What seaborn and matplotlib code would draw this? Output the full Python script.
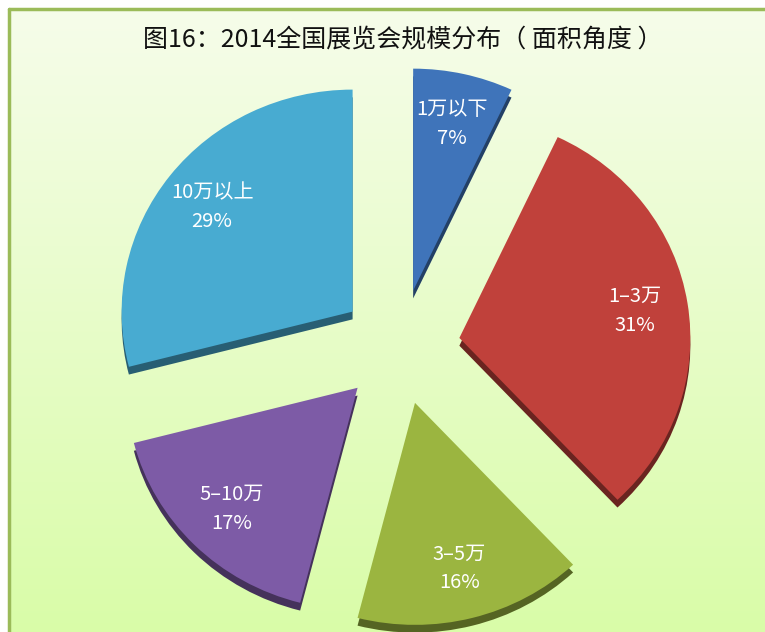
import numpy as np
import seaborn as sns
import matplotlib.pyplot as plt
import matplotlib.colors as mcolors
from matplotlib.lines import Line2D

sns.set_theme(style="white")
plt.rcParams['font.family'] = ['Noto Sans CJK SC', 'DejaVu Sans']

# 数据
categories = ["1万以下", "1–3万", "3–5万", "5–10万", "10万以上"]
shares = [7, 31, 16, 17, 29]
colors = ["#3f74ba", "#c0413b", "#9bb540", "#7d5ba6", "#48abd1"]
title = "图16：2014全国展览会规模分布（ 面积角度 ）"

fig = plt.figure(figsize=(7.65, 6.32), dpi=100)
ax = fig.add_axes([0, 0, 1, 1])

# 背景渐变
grad = np.linspace(0, 1, 256).reshape(-1, 1)
bg = mcolors.LinearSegmentedColormap.from_list("bg", ["#f6fdea", "#d9fca8"])
ax.imshow(grad, cmap=bg, aspect="auto", extent=[-1.69, 1.6, -1.29, 1.52],
          zorder=0)

explode = [0.26] * len(shares)
dark = [tuple(np.array(mcolors.to_rgb(c)) * 0.55) for c in colors]

# 立体侧面
ax.pie(shares, colors=dark, startangle=90, counterclock=False,
       explode=explode, center=(0, -0.035), radius=1.0,
       wedgeprops=dict(linewidth=0, zorder=2))

wedges, texts = ax.pie(
    shares, colors=colors, startangle=90, counterclock=False,
    explode=explode, radius=1.0,
    labels=[f"{c}\n{s}%" for c, s in zip(categories, shares)],
    labeldistance=0.77,
    wedgeprops=dict(linewidth=0, zorder=3),
    textprops=dict(color="white", fontsize=14.5, fontweight="light", zorder=5))
for t in texts:
    t.set_ha("center")
    t.set_va("center")
    t.set_linespacing(1.5)

ax.set_aspect("auto")
ax.set_xlim(-1.732, 1.580)
ax.set_ylim(-1.284, 1.563)
ax.axis("off")

# 边框
fig.add_artist(Line2D([0.0115, 0.0115], [0, 0.986], transform=fig.transFigure,
                      color="#9bbb59", lw=2.5))
fig.add_artist(Line2D([0.0115, 1], [0.986, 0.986], transform=fig.transFigure,
                      color="#9bbb59", lw=2.5))

fig.text(0.527, 0.937, title, ha="center", va="center", fontsize=18,
         fontweight="medium", color="#111111")

fig.savefig("out.png", dpi=100, facecolor="white")
